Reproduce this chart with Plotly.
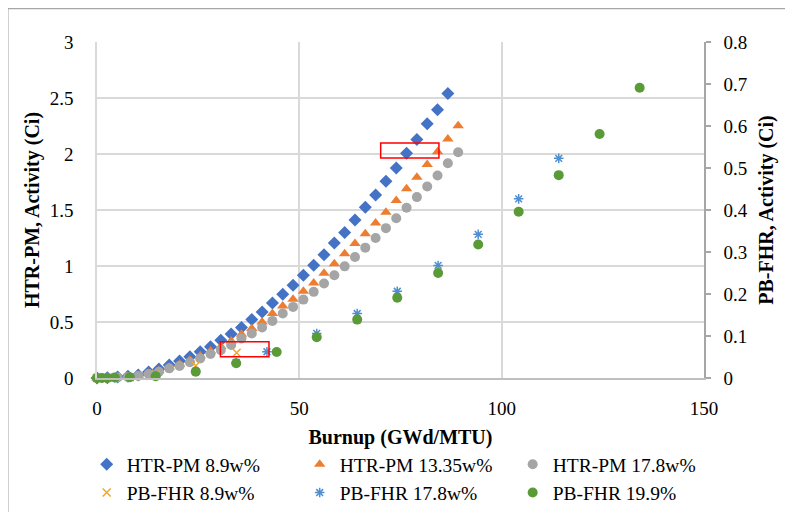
import plotly.graph_objects as go

# ---- data ----
htr_x = [0, 2.55, 5.1, 7.65, 10.2, 12.75, 15.3, 17.85, 20.4, 22.95, 25.5, 28.05,
         30.6, 33.15, 35.7, 38.25, 40.8, 43.35, 45.9, 48.45, 51.0, 53.55, 56.1,
         58.65, 61.2, 63.75, 66.3, 68.85, 71.4, 73.95, 76.5, 79.05, 81.6, 84.15,
         86.7, 89.25]
htr_89 = [0, 0.003, 0.008, 0.015, 0.027, 0.053, 0.08, 0.116, 0.151, 0.19, 0.234,
          0.279, 0.338, 0.392, 0.451, 0.523, 0.59, 0.67, 0.748, 0.828, 0.917,
          1.006, 1.10, 1.205, 1.30, 1.41, 1.525, 1.635, 1.757, 1.876, 2.006, 2.13,
          2.27, 2.395, 2.54]
htr_1335 = [0, 0.002, 0.007, 0.014, 0.022, 0.042, 0.065, 0.097, 0.122, 0.16,
            0.198, 0.24, 0.282, 0.33, 0.39, 0.442, 0.501, 0.576, 0.642, 0.703,
            0.775, 0.849, 0.935, 1.021, 1.11, 1.2, 1.289, 1.383, 1.481, 1.585,
            1.689, 1.793, 1.906, 2.021, 2.134, 2.253]
htr_178 = [0, 0.002, 0.005, 0.01, 0.018, 0.036, 0.056, 0.086, 0.107, 0.14, 0.175,
           0.214, 0.249, 0.294, 0.353, 0.398, 0.451, 0.51, 0.576, 0.635, 0.70,
           0.769, 0.843, 0.917, 0.997, 1.08, 1.164, 1.25, 1.338, 1.427, 1.52,
           1.615, 1.71, 1.808, 1.917, 2.015]

fhr89_x = [0, 1.2, 2.5, 4.4, 8.1, 14.5, 24.4, 34.5]
fhr89_y = [0, 0, 0, 0.001, 0.002, 0.008, 0.029, 0.06]

fhr178_x = [0, 1.2, 2.5, 4.4, 8.1, 14.5, 24.4, 34.4, 42.0, 54.3, 64.3, 74.2,
            84.3, 94.2, 104.2, 114.1]
fhr178_y = [0, 0, 0, 0.001, 0.002, 0.005, 0.016, 0.037, 0.0625, 0.106, 0.1535,
            0.2065, 0.268, 0.342, 0.4265, 0.523]

fhr199_x = [0, 1.2, 2.5, 4.4, 8.1, 14.5, 24.4, 34.4, 44.4, 54.3, 64.3, 74.2,
            84.3, 94.2, 104.2, 114.1, 124.2, 134.1]
fhr199_y = [0, 0, 0, 0.001, 0.002, 0.004, 0.015, 0.035, 0.062, 0.097, 0.139,
            0.191, 0.25, 0.318, 0.396, 0.483, 0.581, 0.691]

x_ticks = [0, 50, 100, 150]
y_ticks = [0, 0.5, 1, 1.5, 2, 2.5, 3]
y2_ticks = [0, 0.1, 0.2, 0.3, 0.4, 0.5, 0.6, 0.7, 0.8]

# highlight boxes (data units: x0, x1, y0, y1 on left axis)
boxes = [(30.5, 42.5, 0.19, 0.323), (70.1, 84.5, 1.965, 2.099)]

FONT = "Liberation Serif, Times New Roman, serif"

fig = go.Figure()
fig.add_trace(go.Scatter(x=htr_x[:len(htr_89)], y=htr_89, mode="markers",
                         name="HTR-PM 8.9w%", cliponaxis=False,
                         marker=dict(symbol="diamond", size=10, color="#4472C4")))
fig.add_trace(go.Scatter(x=htr_x, y=htr_1335, mode="markers",
                         name="HTR-PM 13.35w%", cliponaxis=False,
                         marker=dict(symbol="triangle-up", size=10, color="#ED7D31")))
fig.add_trace(go.Scatter(x=htr_x, y=htr_178, mode="markers",
                         name="HTR-PM 17.8w%", cliponaxis=False,
                         marker=dict(symbol="circle", size=10, color="#A5A5A5")))
fig.add_trace(go.Scatter(x=fhr89_x, y=fhr89_y, mode="markers", yaxis="y2",
                         name="PB-FHR 8.9w%", cliponaxis=False,
                         marker=dict(symbol="x-thin-open", size=8, color="#F2A52B",
                                     line=dict(width=1.5, color="#F2A52B"))))
fig.add_trace(go.Scatter(x=fhr178_x, y=fhr178_y, mode="markers", yaxis="y2",
                         name="PB-FHR 17.8w%", cliponaxis=False,
                         marker=dict(symbol="asterisk-open", size=8, color="#4F8FCF",
                                     line=dict(width=1.5, color="#4F8FCF"))))
fig.add_trace(go.Scatter(x=fhr199_x, y=fhr199_y, mode="markers", yaxis="y2",
                         name="PB-FHR 19.9%", cliponaxis=False,
                         marker=dict(symbol="circle", size=10, color="#5B9B37")))

shapes = []
for (x0, x1, y0, y1) in boxes:
    shapes.append(dict(type="rect", xref="x", yref="y", x0=x0, x1=x1, y0=y0, y1=y1,
                       line=dict(color="#FF0000", width=1.5)))
# outer frame
shapes.append(dict(type="rect", xref="paper", yref="paper",
                   x0=-0.147, x1=1.2, y0=-0.45, y1=1.1,
                   line=dict(color="#A6A6A6", width=1.5), layer="below"))

fig.update_layout(
    width=793, height=512,
    margin=dict(l=89, r=97, t=34, b=142, autoexpand=False),
    paper_bgcolor="white", plot_bgcolor="white",
    font=dict(family=FONT, size=19, color="black"),
    showlegend=True,
    legend=dict(orientation="h", x=-0.017, y=-0.1994, xanchor="left", yanchor="top",
                font=dict(family=FONT, size=19.5), entrywidth=168,
                entrywidthmode="pixels"),
    xaxis=dict(range=[0, 150], tickvals=x_ticks, showgrid=True, automargin=False,
               gridcolor="#D9D9D9", gridwidth=1.5, zeroline=False,
               showline=True, linecolor="#BFBFBF", linewidth=1.5,
               ticks="", ticklabelstandoff=12,
               title=dict(text="<b>Burnup (GWd/MTU)</b>", standoff=12,
                          font=dict(size=20))),
    yaxis=dict(range=[0, 3], tickvals=y_ticks, showgrid=True, automargin=False,
               gridcolor="#D9D9D9", gridwidth=1.5, zeroline=False,
               showline=True, linecolor="#D9D9D9", linewidth=1.5,
               ticks="", ticklabelstandoff=18,
               title=dict(text="<b>HTR-PM, Activity (Ci)</b>", standoff=5,
                          font=dict(size=20))),
    yaxis2=dict(range=[0, 0.8], tickvals=y2_ticks, overlaying="y", side="right",
                showgrid=False, zeroline=False, showline=True, automargin=False,
                linecolor="#A6A6A6", linewidth=1.5,
                ticks="outside", ticklen=5, tickcolor="#A6A6A6", tickwidth=1.5,
                ticklabelstandoff=9,
                title=dict(text="<b>PB-FHR, Activity (Ci)</b>", standoff=12,
                           font=dict(size=20))),
    shapes=shapes,
)

fig.write_html("out.html")
